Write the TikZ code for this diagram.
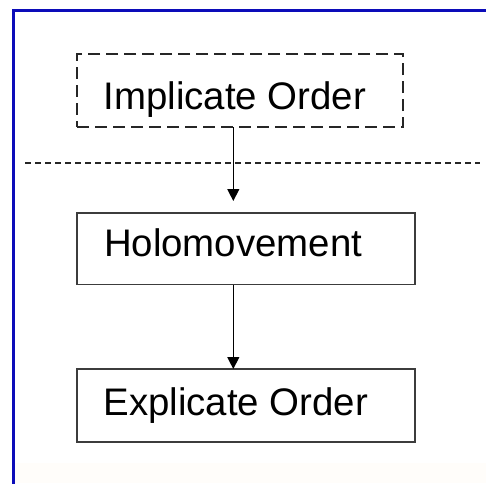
\documentclass[tikz,border=0pt]{standalone}
\usepackage{fontspec}
\setmainfont{Liberation Sans}
\usetikzlibrary{arrows.meta}

\definecolor{framecol}{RGB}{12,12,185}
\definecolor{boxline}{RGB}{60,60,60}
\definecolor{tint}{RGB}{255,253,250}

\tikzset{
  solidbox/.style={draw=boxline, line width=1.5pt, rectangle, inner sep=0pt, outer sep=0pt},
  dashbox/.style={draw=black!85, line width=1.9pt, rectangle, inner sep=0pt, outer sep=0pt,
                  dash pattern=on 12pt off 6pt},
  boxtext/.style={inner sep=0pt, outer sep=0pt, anchor=base west,
                  font=\fontsize{38.4}{46}\selectfont},
  flow/.style={draw=black, line width=1.2pt, -{Triangle[width=12pt,length=12pt]}},
  divider/.style={draw=black!85, line width=1.6pt, dash pattern=on 6pt off 4pt}
}

\begin{document}
\begin{tikzpicture}[x=1pt, y=-1pt]
  \useasboundingbox (0,0) rectangle (486,483);
  \fill[white] (0,0) rectangle (486,483);
  \fill[tint] (14,463) rectangle (486,483);

  % outer frame: only its left and top sides fall inside the page
  \draw[framecol, line width=3pt] (13.5,490) -- (13.5,10.5) -- (495,10.5);

  % boxes
  \node[dashbox,  minimum width=326pt, minimum height=73pt]   (impl) at (240,90.5) {};
  \node[solidbox, minimum width=338pt, minimum height=71.5pt] (holo) at (246,248.75) {};
  \node[solidbox, minimum width=338pt, minimum height=73pt]   (expl) at (246,405.5) {};

  % labels
  \node[boxtext] (implText) at (103.5,109.5) {Implicate Order};
  \node[boxtext] (holoText) at (104,256) {Holomovement};
  \node[boxtext] (explText) at (103.5,415) {Explicate Order};

  % dividing line between the two orders
  \coordinate (divL) at (25,163);
  \coordinate (divR) at (480,163);
  \draw[divider] (divL) -- (divR);

  % connectors
  \coordinate (axis) at (233.3,0);
  \draw[flow, shorten >=12pt] (impl.south -| axis) -- (holo.north -| axis);
  \draw[flow] (holo.south -| axis) -- (expl.north -| axis);
\end{tikzpicture}
\end{document}
